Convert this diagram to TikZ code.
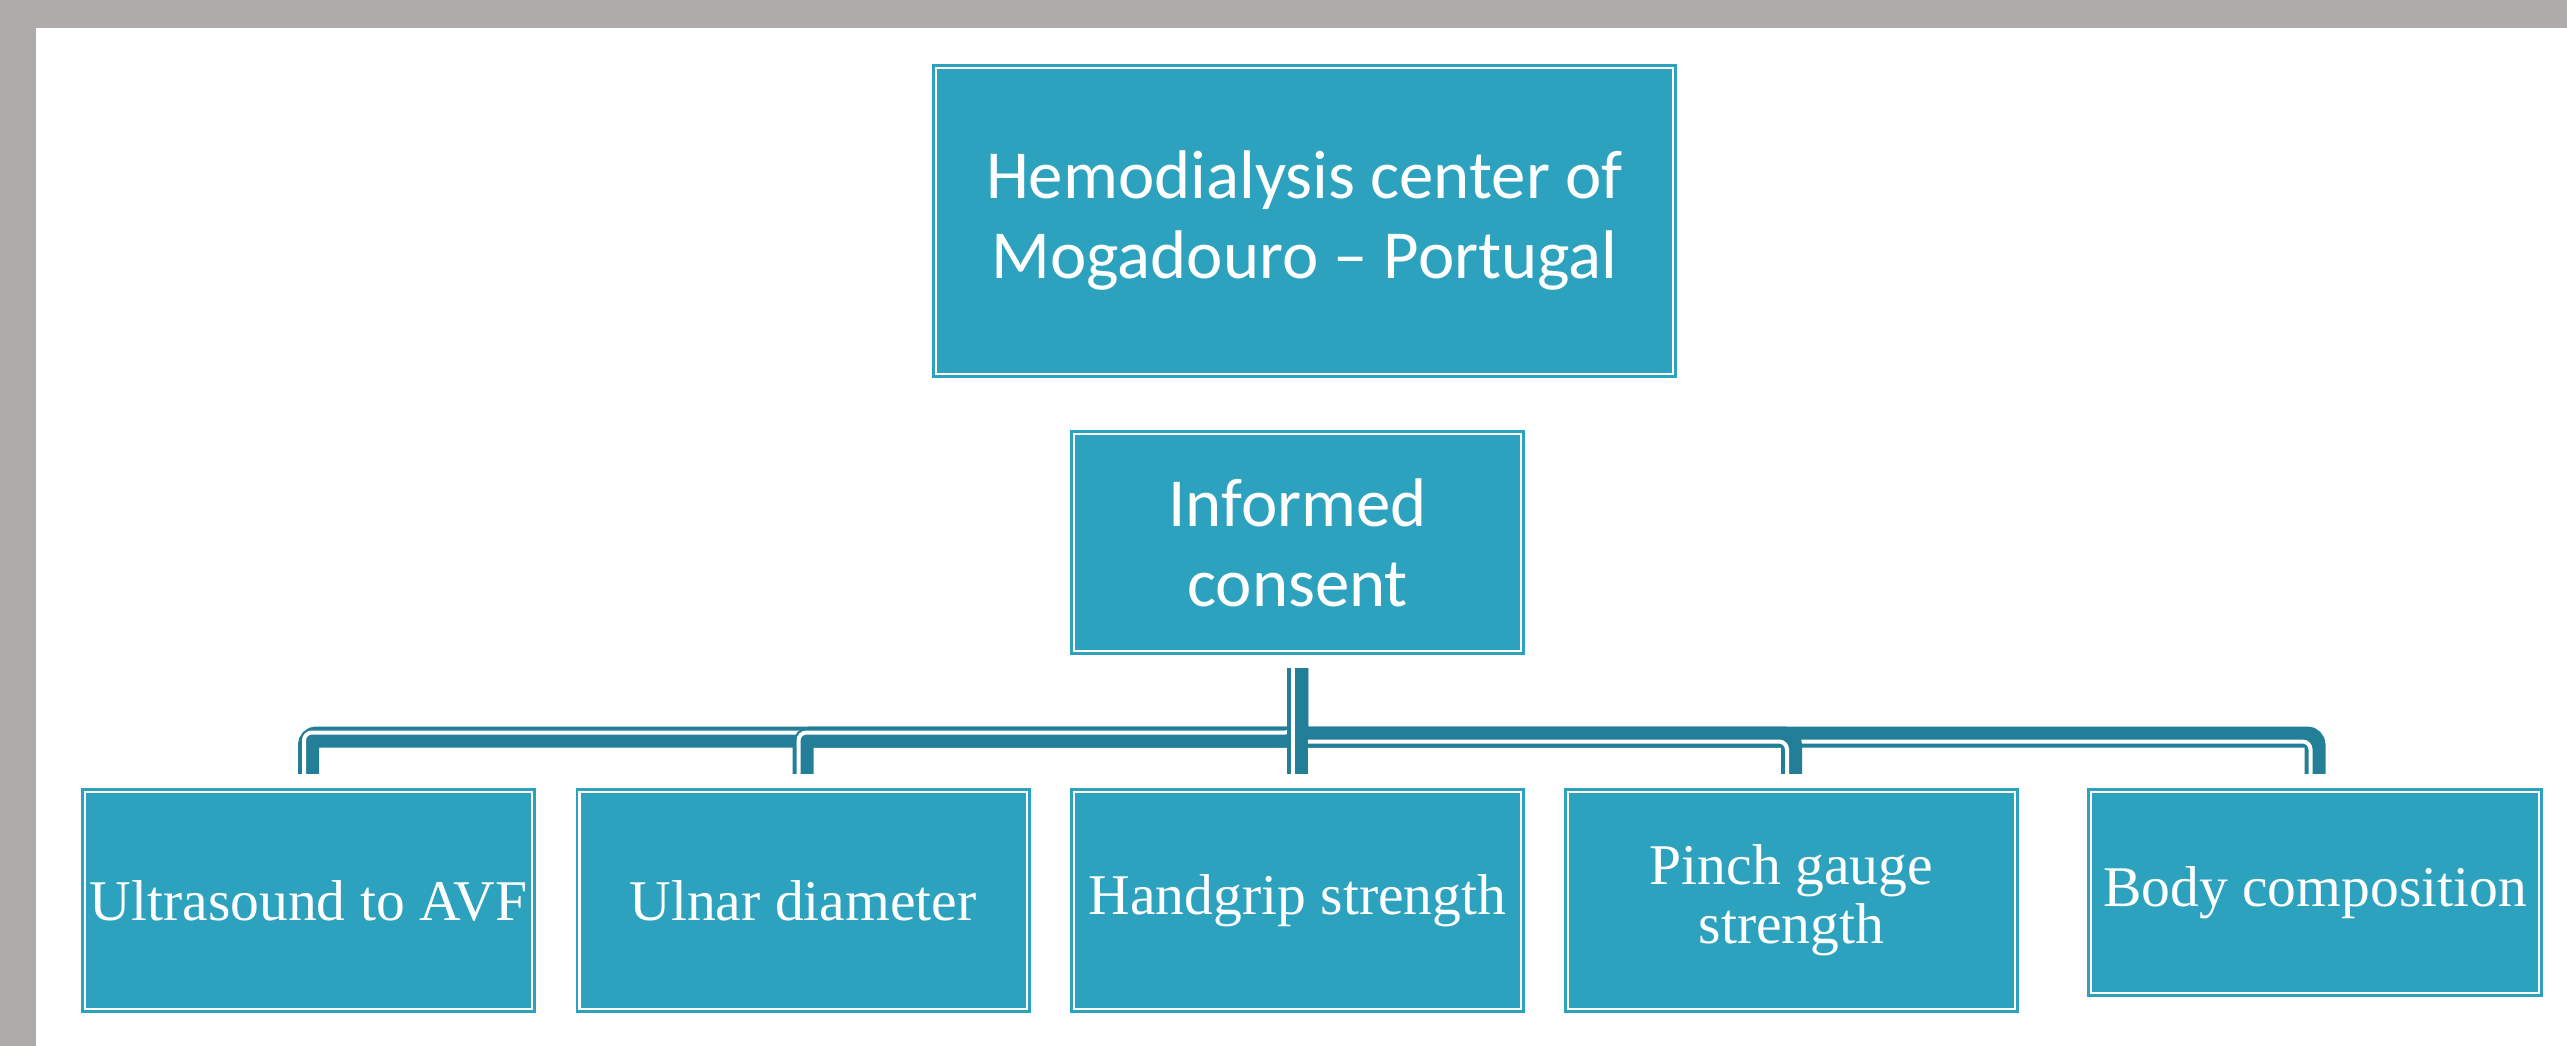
\documentclass[tikz,border=0pt]{standalone}
\usepackage{fontspec}
\setmainfont{Liberation Serif}
\newfontfamily\boxsans{Carlito}
\usetikzlibrary{calc}
\definecolor{boxblue}{HTML}{2DA2BF}
\definecolor{conndark}{HTML}{237F98}
\definecolor{framegray}{HTML}{AFABAA}
\begin{document}
\begin{tikzpicture}[x=0.25pt,y=-0.25pt,
 box/.style={fill=boxblue, draw=boxblue, line width=0.7pt, double=white, double distance=0.55pt,
   inner sep=0pt, outer sep=0pt, text=white, align=center,
   minimum width=111.8pt, minimum height=54.3pt},
 sanslabel/.style={font=\boxsans\fontsize{17.2}{20}\selectfont},
 seriflabel/.style={font=\fontsize{14.4}{14.75}\selectfont},
 wire/.style={draw=conndark, line width=5.25pt, rounded corners=2pt},
 gapline/.style={draw=white, line width=1pt, rounded corners=2pt}]
\fill[framegray] (0,0) rectangle (2567,1046);
\fill[white] (36,28) rectangle (2567,1046);
\useasboundingbox (0,0) rectangle (2567,1046);

\node[box, sanslabel, minimum width=184.3pt, minimum height=76.55pt] (hc) at (1304.5,221)
  {Hemodialysis center of\\Mogadouro – Portugal};
\node[box, sanslabel] (ic) at (1297.5,542.5) {Informed\\consent};
\node[box, seriflabel] (c1) at (308.5,900.5) {Ultrasound to AVF};
\node[box, seriflabel] (c2) at (803,900.5) {Ulnar diameter};
\node[box, seriflabel] (c3) at (1297.5,900.5) {Handgrip strength};
\node[box, seriflabel] (c4) at (1791.5,900.5) {Pinch gauge\\strength};
\node[box, seriflabel, minimum width=112.05pt, minimum height=50.3pt] (c5) at (2315,892.5) {Body composition};

\coordinate (bus) at (0,737);

% left-going connectors
\draw[wire] ($(ic.south)+(0,17)$) |- (c1.north |- bus) -- ($(c1.north)+(0,-18)$);
\draw[gapline] ($(ic.south)+(-4.5,17)$) |- ($(c1.north |- bus)+(-4.5,-4.5)$) -- ($(c1.north)+(-4.5,-18)$);
% right-going
\draw[wire] ($(ic.south)+(0,17)$) |- (c5.north |- bus) -- ($(c5.north)+(0,-18)$);
\draw[gapline] ($(ic.south)+(-4.5,17)$) |- ($(c5.north |- bus)+(-4.5,4.5)$) -- ($(c5.north)+(-4.5,-18)$);
\draw[wire] ($(ic.south)+(0,17)$) |- (c2.north |- bus) -- ($(c2.north)+(0,-18)$);
\draw[gapline] ($(ic.south)+(-4.5,17)$) |- ($(c2.north |- bus)+(-4.5,-4.5)$) -- ($(c2.north)+(-4.5,-18)$);
\draw[wire] ($(ic.south)+(0,17)$) |- (c4.north |- bus) -- ($(c4.north)+(0,-18)$);
\draw[gapline] ($(ic.south)+(-4.5,17)$) |- ($(c4.north |- bus)+(-4.5,4.5)$) -- ($(c4.north)+(-4.5,-18)$);
% straight down
\draw[wire] ($(ic.south)+(0,17)$) -- ($(c3.north)+(0,-18)$);
\draw[gapline] ($(ic.south)+(-4.5,17)$) -- ($(c3.north)+(-4.5,-18)$);
\end{tikzpicture}
\end{document}
